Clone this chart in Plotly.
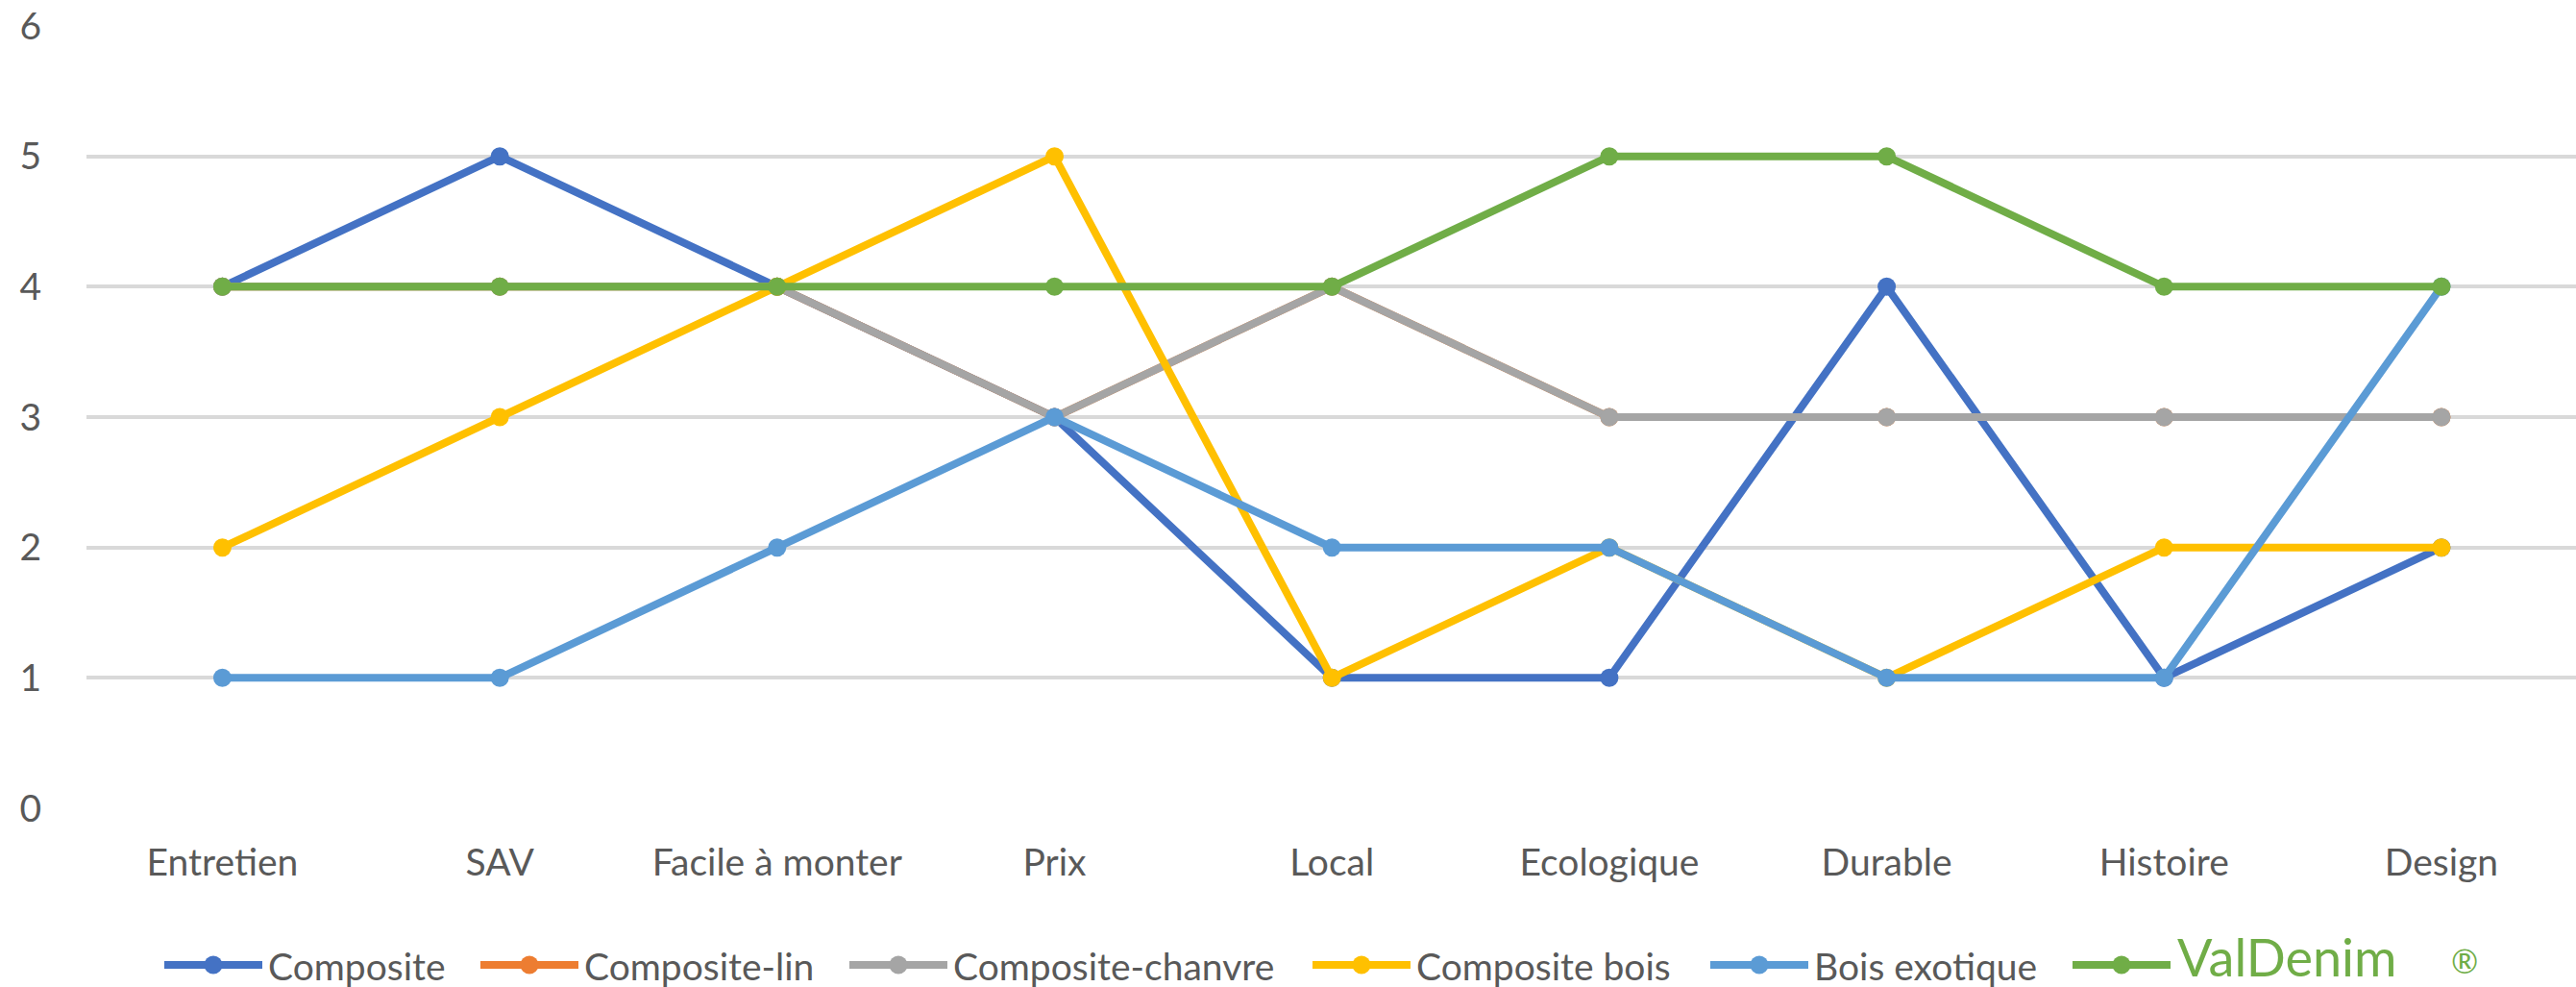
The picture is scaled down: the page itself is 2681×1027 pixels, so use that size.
import plotly.graph_objects as go

# Criteria rated for each material
categories = ["Entretien", "SAV", "Facile à monter", "Prix", "Local",
              "Ecologique", "Durable", "Histoire", "Design"]

composite = [4, 5, 4, 3, 1, 1, 4, 1, 2]
composite_lin = [4, 4, 4, 3, 4, 3, 3, 3, 3]
composite_chanvre = [4, 4, 4, 3, 4, 3, 3, 3, 3]
composite_bois = [2, 3, 4, 5, 1, 2, 1, 2, 2]
bois_exotique = [1, 1, 2, 3, 2, 2, 1, 1, 4]
valdenim = [4, 4, 4, 4, 4, 5, 5, 4, 4]

y_ticks = [0, 1, 2, 3, 4, 5, 6]

series = [
    ("Composite", composite, "#4472C4"),
    ("Composite-lin", composite_lin, "#ED7D31"),
    ("Composite-chanvre", composite_chanvre, "#A5A5A5"),
    ("Composite bois", composite_bois, "#FFC000"),
    ("Bois exotique", bois_exotique, "#5B9BD5"),
    ("ValDenim", valdenim, "#70AD47"),
]

W, H = 2681, 1027
ML, MR, MT, MB = 90, 0, 27, 186
PW, PH = W - ML - MR, H - MT - MB
FONT = "Lato, 'Noto Sans', sans-serif"
TXT = "#595959"
FS = 39
LINE_W = 8
MARK = 19

fig = go.Figure()
for name, vals, col in series:
    fig.add_trace(go.Scatter(
        x=categories, y=vals, name=name, mode="lines+markers",
        line=dict(color=col, width=LINE_W),
        marker=dict(color=col, size=MARK, symbol="circle"),
        cliponaxis=False, showlegend=False,
    ))

# Hand-built legend row below the plot (pixel positions of each entry)
legend_slots = [171, 500, 884, 1366, 1780, 2157]
legend_len = 102
legend_y = 1004


def px_x(px):
    return (px - ML) / PW


def px_y(py):
    return (H - MB - py) / PH


shapes = []
annotations = []
for (name, vals, col), x0 in zip(series, legend_slots):
    x1 = x0 + legend_len
    shapes.append(dict(type="line", xref="paper", yref="paper",
                       x0=px_x(x0), x1=px_x(x1), y0=px_y(legend_y), y1=px_y(legend_y),
                       line=dict(color=col, width=LINE_W)))
    shapes.append(dict(type="circle", xref="paper", yref="paper",
                       xsizemode="pixel", ysizemode="pixel",
                       xanchor=px_x((x0 + x1) / 2), yanchor=px_y(legend_y),
                       x0=-MARK / 2, x1=MARK / 2, y0=-MARK / 2, y1=MARK / 2,
                       fillcolor=col, line=dict(width=0)))
    if name == "ValDenim":
        annotations.append(dict(text="ValDenim", xref="paper", yref="paper",
                                x=px_x(x1 + 5), y=px_y(995),
                                xanchor="left", yanchor="middle", showarrow=False,
                                font=dict(family=FONT, size=54, color=col)))
        annotations.append(dict(text="®", xref="paper", yref="paper",
                                x=px_x(2549), y=px_y(1000),
                                xanchor="left", yanchor="middle", showarrow=False,
                                font=dict(family=FONT, size=34, color=col)))
    else:
        annotations.append(dict(text=name, xref="paper", yref="paper",
                                x=px_x(x1 + 4), y=px_y(legend_y + 1),
                                xanchor="left", yanchor="middle", showarrow=False,
                                font=dict(family=FONT, size=FS, color=TXT)))

fig.update_layout(
    width=W, height=H,
    margin=dict(l=ML, r=MR, t=MT, b=MB, pad=0),
    paper_bgcolor="white", plot_bgcolor="white",
    font=dict(family=FONT, size=FS, color=TXT),
    showlegend=False,
    shapes=shapes, annotations=annotations,
    xaxis=dict(
        type="category", range=[-0.49, 8.485],
        showgrid=False, showline=False, zeroline=False,
        ticks="outside", ticklen=22, tickcolor="rgba(0,0,0,0)",
        tickfont=dict(family=FONT, size=FS, color=TXT),
    ),
    yaxis=dict(
        range=[0, 6], tickvals=y_ticks, ticktext=[str(v) for v in y_ticks],
        showgrid=True, gridcolor="#D9D9D9", gridwidth=4,
        showline=False, zeroline=False,
        ticks="outside", ticklen=38, tickcolor="rgba(0,0,0,0)",
        tickfont=dict(family=FONT, size=FS, color=TXT),
    ),
)

fig.write_html("out.html")
